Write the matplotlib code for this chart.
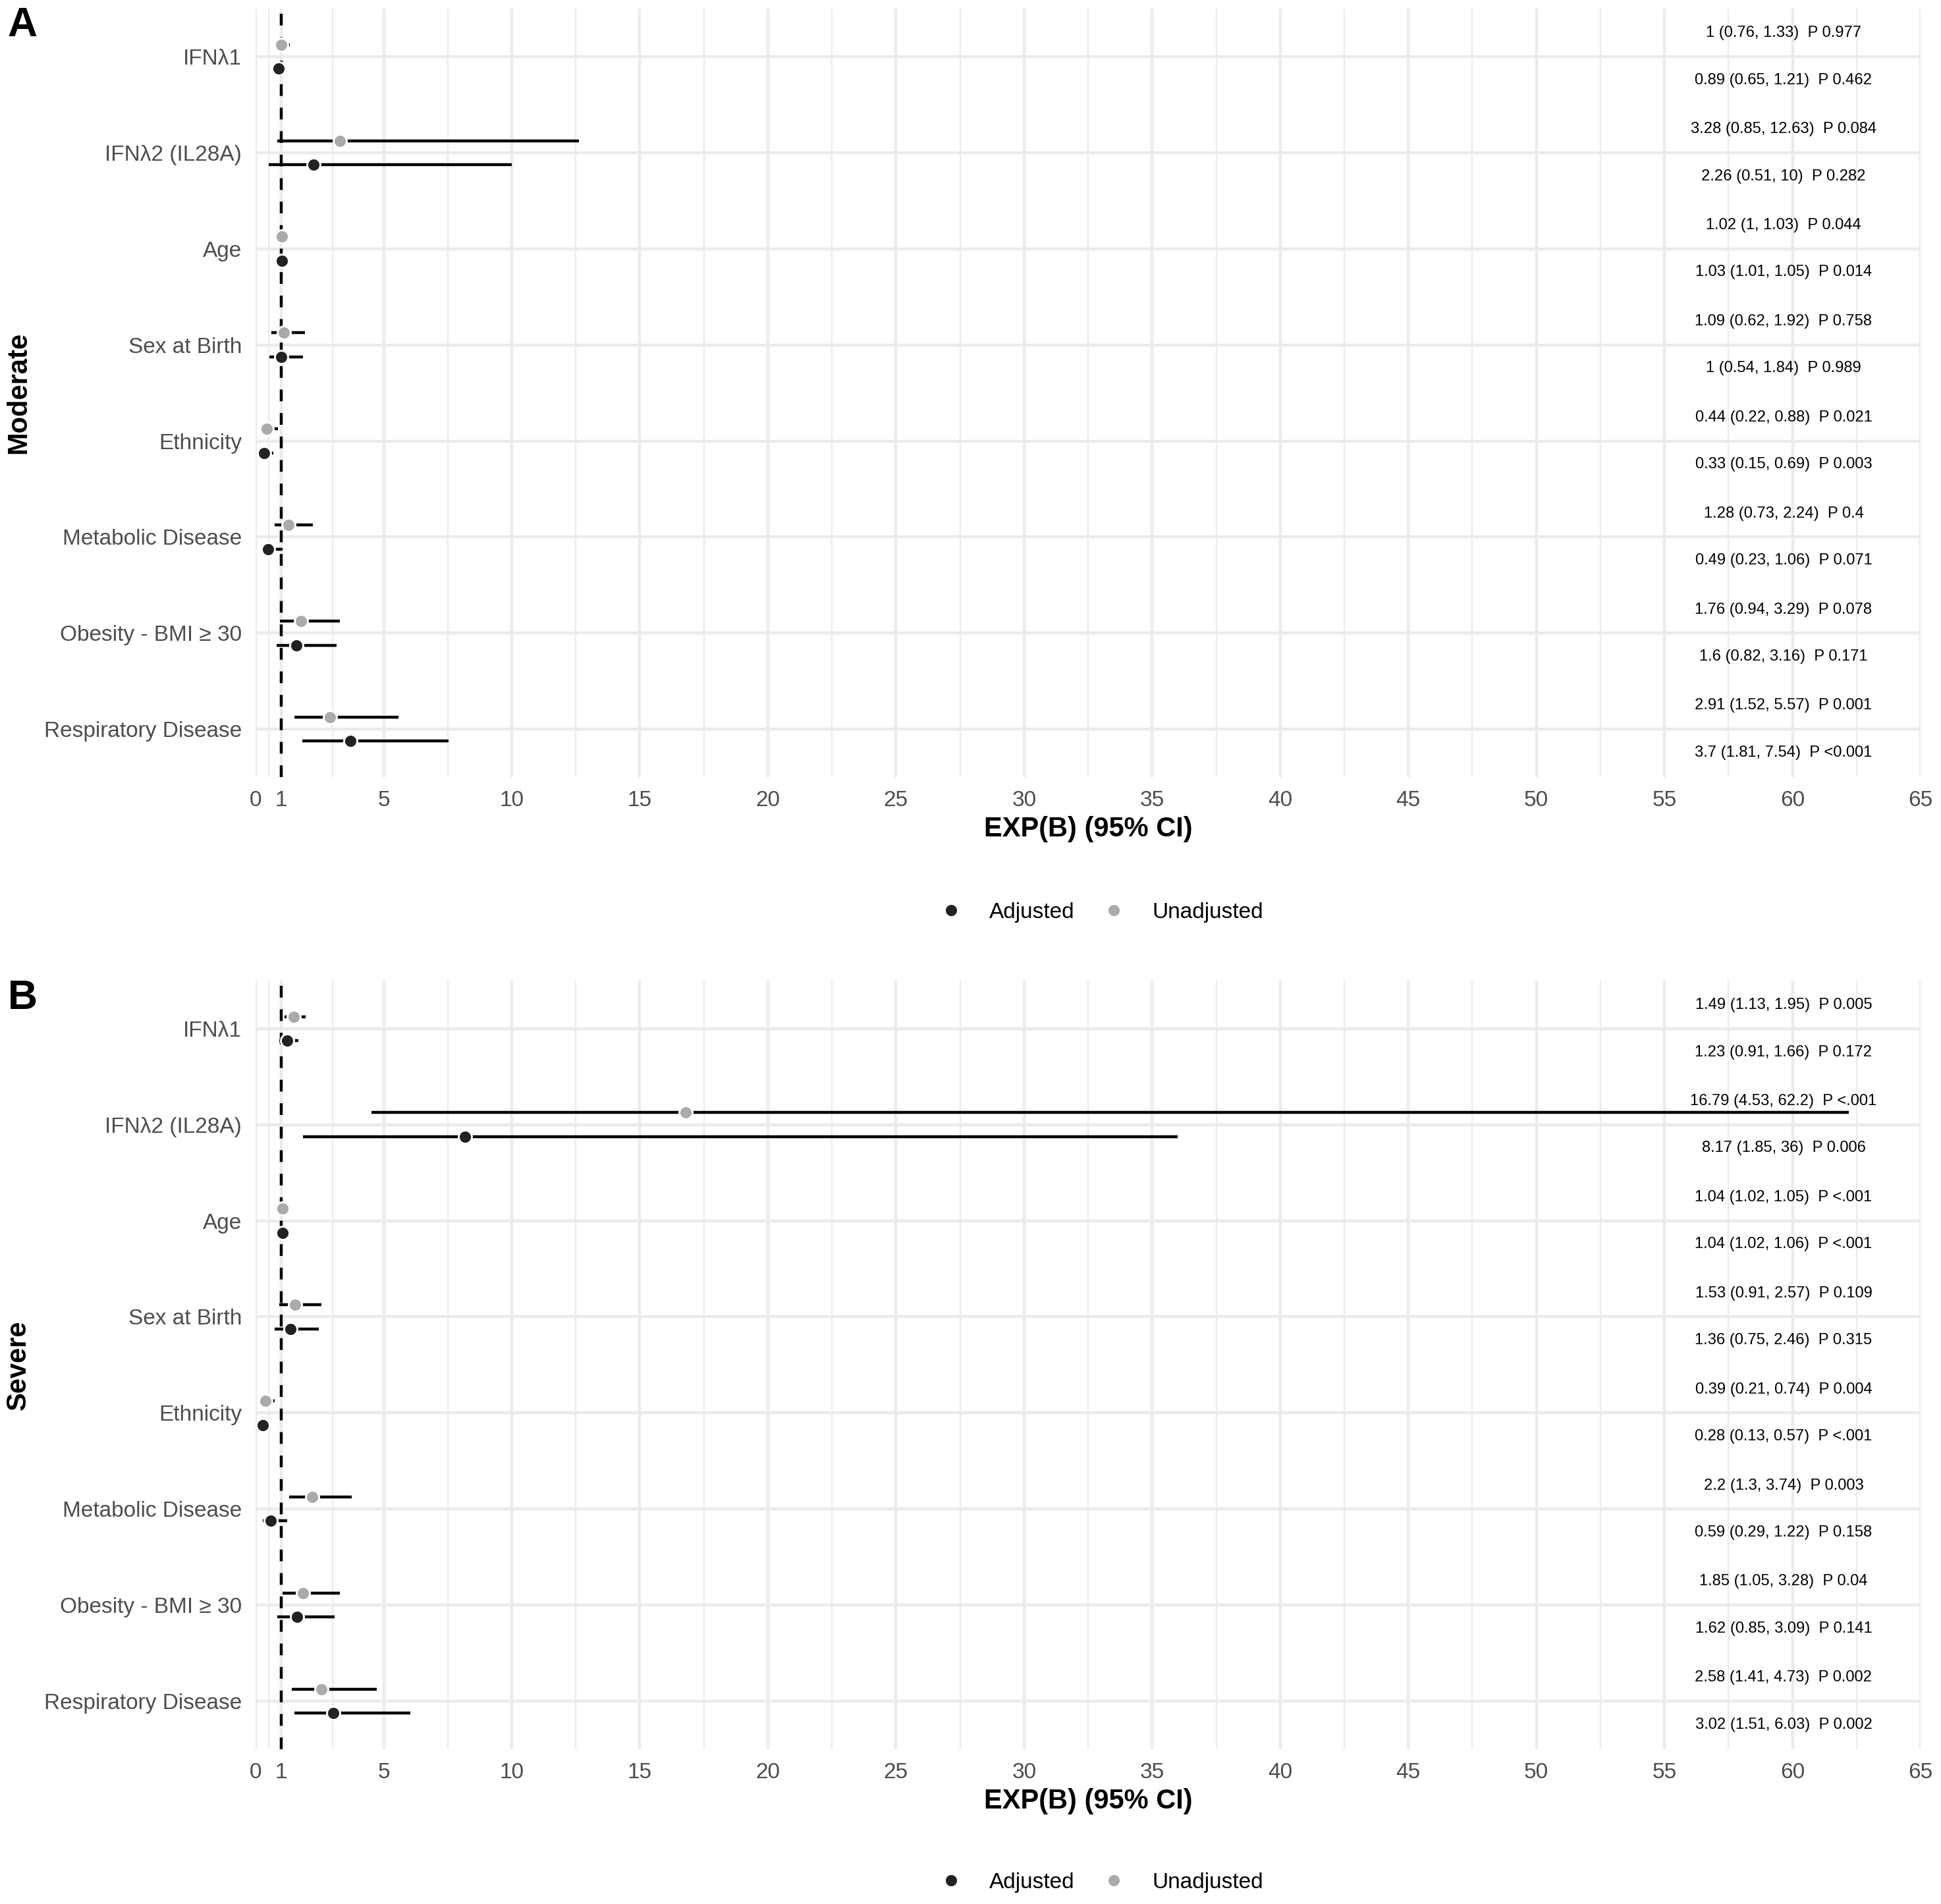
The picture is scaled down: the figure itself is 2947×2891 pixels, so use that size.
import matplotlib.pyplot as plt
from matplotlib.lines import Line2D

plt.rcParams['font.family'] = ['Liberation Sans', 'DejaVu Sans']

terms = ['IFNλ1', 'IFNλ2 (IL28A)', 'Age', 'Sex at Birth', 'Ethnicity',
         'Metabolic Disease', 'Obesity - BMI ≥ 30', 'Respiratory Disease']

# Moderate
mod_unadj_or = [1, 3.28, 1.02, 1.09, 0.44, 1.28, 1.76, 2.91]
mod_unadj_lo = [0.76, 0.85, 1, 0.62, 0.22, 0.73, 0.94, 1.52]
mod_unadj_hi = [1.33, 12.63, 1.03, 1.92, 0.88, 2.24, 3.29, 5.57]
mod_unadj_p = ['0.977', '0.084', '0.044', '0.758', '0.021', '0.4', '0.078', '0.001']
mod_adj_or = [0.89, 2.26, 1.03, 1, 0.33, 0.49, 1.6, 3.7]
mod_adj_lo = [0.65, 0.51, 1.01, 0.54, 0.15, 0.23, 0.82, 1.81]
mod_adj_hi = [1.21, 10, 1.05, 1.84, 0.69, 1.06, 3.16, 7.54]
mod_adj_p = ['0.462', '0.282', '0.014', '0.989', '0.003', '0.071', '0.171', '<0.001']

# Severe
sev_unadj_or = [1.49, 16.79, 1.04, 1.53, 0.39, 2.2, 1.85, 2.58]
sev_unadj_lo = [1.13, 4.53, 1.02, 0.91, 0.21, 1.3, 1.05, 1.41]
sev_unadj_hi = [1.95, 62.2, 1.05, 2.57, 0.74, 3.74, 3.28, 4.73]
sev_unadj_p = ['0.005', '<.001', '<.001', '0.109', '0.004', '0.003', '0.04', '0.002']
sev_adj_or = [1.23, 8.17, 1.04, 1.36, 0.28, 0.59, 1.62, 3.02]
sev_adj_lo = [0.91, 1.85, 1.02, 0.75, 0.13, 0.29, 0.85, 1.51]
sev_adj_hi = [1.66, 36, 1.06, 2.46, 0.57, 1.22, 3.09, 6.03]
sev_adj_p = ['0.172', '0.006', '<.001', '0.315', '<.001', '0.158', '0.141', '0.002']

x_major = [0, 1] + list(range(5, 70, 5))
x_minor = [0.5, 3] + [v + 2.5 for v in range(5, 65, 5)]

col_adj = '#222222'
col_unadj = '#AAAAAA'
grid_col = '#EBEBEB'


def fmt(v):
    return f'{v:g}'


def draw_panel(ax, u_or, u_lo, u_hi, u_p, a_or, a_lo, a_hi, a_p):
    n = len(terms)
    ypos = list(range(n))
    for i in ypos:
        # unadjusted above, adjusted below
        for off, est, lo, hi, p, col in [(-0.125, u_or[i], u_lo[i], u_hi[i], u_p[i], col_unadj),
                                         (0.125, a_or[i], a_lo[i], a_hi[i], a_p[i], col_adj)]:
            yy = i + off
            ax.plot([lo, hi], [yy, yy], color='black', lw=1.07, solid_capstyle='butt', zorder=3)
            ax.plot([est], [yy], 'o', ms=4.8, mfc=col, mec='white', mew=0.7, zorder=4)
            ax.text(59.65, i + off * 1.96, f'{fmt(est)} ({fmt(lo)}, {fmt(hi)})  P {p}',
                    ha='center', va='center', fontsize=5.7, color='black', zorder=5)
    ax.axvline(1, color='black', lw=1.07, dashes=(4, 4), zorder=2)
    ax.set_xlim(0, 65)
    ax.set_ylim(n - 0.5, -0.5)
    ax.set_yticks(ypos)
    ax.set_yticklabels(terms)
    ax.set_xticks(x_major)
    ax.set_xticks(x_minor, minor=True)
    ax.grid(True, which='major', color=grid_col, lw=1.07, zorder=0)
    ax.grid(True, which='minor', axis='x', color=grid_col, lw=0.53, zorder=0)
    ax.set_axisbelow(True)
    for s in ax.spines.values():
        s.set_visible(False)
    ax.tick_params(which='both', length=0, labelsize=8, labelcolor='#4D4D4D')
    ax.tick_params(axis='x', pad=4.8)
    ax.tick_params(axis='y', pad=5)
    ax.set_xlabel('EXP(B) (95% CI)', fontsize=10, fontweight='bold', labelpad=2)


fig = plt.figure(figsize=(2947 / 300, 2891 / 300), dpi=300)

ax_a = fig.add_axes([0.1317, 0.5918, 0.8578, 0.4037])
draw_panel(ax_a, mod_unadj_or, mod_unadj_lo, mod_unadj_hi, mod_unadj_p,
           mod_adj_or, mod_adj_lo, mod_adj_hi, mod_adj_p)
ax_b = fig.add_axes([0.1317, 0.0813, 0.8578, 0.4037])
draw_panel(ax_b, sev_unadj_or, sev_unadj_lo, sev_unadj_hi, sev_unadj_p,
           sev_adj_or, sev_adj_lo, sev_adj_hi, sev_adj_p)

fig.text(28 / 2947, 0.5918 + 0.4037 / 2, 'Moderate', rotation=90, ha='center', va='center',
         fontsize=10, fontweight='bold')
fig.text(28 / 2947, 0.0813 + 0.4037 / 2, 'Severe', rotation=90, ha='center', va='center',
         fontsize=10, fontweight='bold')
fig.text(0.004, 0.997, 'A', ha='left', va='top', fontsize=15, fontweight='bold')
fig.text(0.004, 0.486, 'B', ha='left', va='top', fontsize=15, fontweight='bold')

handles = [Line2D([], [], ls='none', marker='o', ms=4.8, mfc=col_adj, mec='white', mew=0.7),
           Line2D([], [], ls='none', marker='o', ms=4.8, mfc=col_unadj, mec='white', mew=0.7)]
for yc in [0.5209, 0.0114]:
    fig.legend(handles, ['Adjusted', 'Unadjusted'], loc='center', bbox_to_anchor=(0.5676, yc),
               ncol=2, frameon=False, fontsize=8, handlelength=1.0, handletextpad=1.24,
               columnspacing=1.29, borderpad=0, borderaxespad=0)

fig.savefig('out.png', dpi=300)
